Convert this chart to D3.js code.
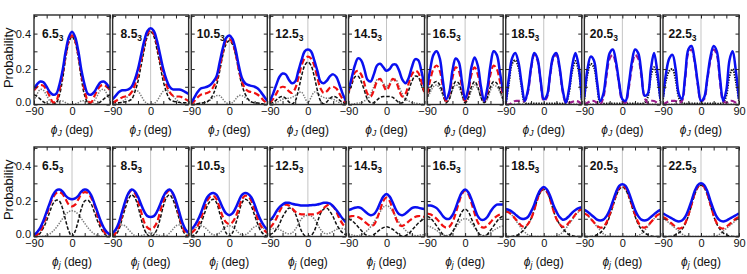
<!DOCTYPE html>
<html>
<head>
<meta charset="utf-8">
<script src="https://cdn.jsdelivr.net/npm/d3@7"></script>
<style>
  body { margin: 0; background: #fff; }
  text { font-family: "Liberation Sans", Arial, sans-serif; fill: #111; }
</style>
</head>
<body>
<div id="chart"></div>
<script>
// sample angles (deg)
const phi = [-90,-82.5,-75,-67.5,-60,-52.5,-45,-37.5,-30,-22.5,-15,-7.5,0,7.5,15,22.5,30,37.5,45,52.5,60,67.5,75,82.5,90];
const labels = ["6.5","8.5","10.5","12.5","14.5","16.5","18.5","20.5","22.5"];
const yTickLabels = [0, 0.2, 0.4];

// top row (phi_J)
const topTotal = [
  [0.09,0.115,0.13,0.125,0.10,0.07,0.055,0.06,0.11,0.19,0.30,0.38,0.41,0.38,0.30,0.19,0.11,0.06,0.055,0.07,0.10,0.125,0.13,0.115,0.09],
  [0.03,0.05,0.07,0.08,0.08,0.085,0.10,0.14,0.20,0.28,0.36,0.415,0.43,0.415,0.36,0.28,0.20,0.14,0.10,0.085,0.085,0.085,0.08,0.07,0.06],
  [0.01,0.04,0.07,0.09,0.095,0.10,0.11,0.13,0.16,0.24,0.32,0.375,0.39,0.37,0.31,0.22,0.15,0.12,0.11,0.105,0.10,0.09,0.07,0.045,0.02],
  [0.02,0.06,0.11,0.155,0.175,0.17,0.14,0.12,0.13,0.19,0.25,0.30,0.31,0.30,0.25,0.19,0.13,0.12,0.135,0.16,0.17,0.155,0.11,0.06,0.02],
  [0.08,0.15,0.22,0.26,0.25,0.20,0.14,0.13,0.17,0.22,0.23,0.21,0.19,0.20,0.225,0.225,0.19,0.14,0.12,0.15,0.21,0.255,0.25,0.19,0.10],
  [0.09,0.20,0.28,0.30,0.26,0.13,0.03,0.07,0.19,0.26,0.24,0.13,0.03,0.09,0.21,0.265,0.22,0.10,0.02,0.09,0.22,0.30,0.28,0.18,0.07],
  [0.01,0.15,0.26,0.29,0.24,0.12,0.02,0.08,0.21,0.29,0.26,0.14,0.03,0.05,0.17,0.27,0.29,0.21,0.08,0.01,0.09,0.22,0.29,0.22,0.03],
  [0.04,0.20,0.27,0.25,0.13,0.02,0.06,0.19,0.29,0.31,0.24,0.12,0.03,0.02,0.11,0.24,0.31,0.29,0.18,0.05,0.06,0.20,0.29,0.19,0.03],
  [0.04,0.18,0.26,0.28,0.20,0.06,0.03,0.16,0.31,0.33,0.25,0.12,0.02,0.04,0.15,0.27,0.33,0.30,0.15,0.02,0.08,0.25,0.30,0.19,0.03]
];
const topDashed = [
  [0.08,0.10,0.11,0.105,0.08,0.045,0.012,0.02,0.08,0.17,0.28,0.36,0.39,0.36,0.28,0.17,0.08,0.02,0.012,0.045,0.08,0.105,0.11,0.10,0.08],
  [0.01,0.02,0.03,0.04,0.045,0.05,0.07,0.11,0.17,0.25,0.34,0.40,0.42,0.40,0.34,0.25,0.17,0.11,0.07,0.05,0.045,0.045,0.04,0.03,0.02],
  [0,0.02,0.04,0.055,0.06,0.065,0.075,0.10,0.14,0.21,0.30,0.36,0.37,0.35,0.29,0.20,0.13,0.09,0.075,0.07,0.065,0.055,0.04,0.02,0.005],
  [0.01,0.03,0.06,0.09,0.10,0.095,0.075,0.065,0.09,0.15,0.22,0.26,0.27,0.26,0.22,0.15,0.09,0.065,0.075,0.095,0.10,0.09,0.06,0.03,0.01],
  [0.07,0.13,0.18,0.19,0.17,0.12,0.06,0.045,0.08,0.13,0.145,0.11,0.08,0.11,0.145,0.13,0.08,0.045,0.06,0.12,0.17,0.19,0.18,0.13,0.07],
  [0.06,0.14,0.20,0.22,0.19,0.10,0.02,0.06,0.15,0.21,0.19,0.10,0.02,0.07,0.17,0.21,0.17,0.08,0.02,0.07,0.17,0.22,0.20,0.13,0.05],
  [0,0,0.01,0.02,0.02,0.02,0.02,0.07,0.20,0.28,0.25,0.13,0.02,0.04,0.16,0.26,0.28,0.20,0.07,0.01,0.01,0.015,0.02,0.015,0],
  [0,0.01,0.02,0.02,0.01,0,0.04,0.16,0.26,0.28,0.22,0.11,0.02,0.01,0.09,0.21,0.28,0.26,0.16,0.04,0.01,0.02,0.02,0.01,0],
  [0,0.01,0.02,0.02,0.02,0.01,0.02,0.14,0.29,0.31,0.24,0.11,0.02,0.03,0.14,0.25,0.31,0.28,0.13,0.02,0.01,0.02,0.02,0.01,0]
];
const topBlack = [
  [0.055,0.045,0.03,0.015,0.004,0,0,0.01,0.05,0.14,0.26,0.35,0.385,0.35,0.26,0.14,0.05,0.01,0,0,0.004,0.015,0.03,0.045,0.055],
  [0.01,0.01,0.01,0.012,0.015,0.02,0.03,0.07,0.13,0.22,0.31,0.385,0.41,0.385,0.31,0.22,0.13,0.07,0.03,0.02,0.015,0.012,0.01,0.01,0.01],
  [0,0.002,0.005,0.008,0.01,0.015,0.03,0.06,0.11,0.19,0.28,0.34,0.36,0.34,0.28,0.19,0.11,0.06,0.03,0.015,0.01,0.008,0.005,0.002,0],
  [0.005,0.012,0.025,0.04,0.045,0.035,0.015,0.003,0.02,0.08,0.16,0.22,0.24,0.22,0.16,0.08,0.02,0.003,0.015,0.035,0.045,0.04,0.025,0.012,0.005],
  [0.06,0.11,0.155,0.16,0.13,0.08,0.03,0.01,0.01,0.025,0.04,0.045,0.045,0.045,0.04,0.025,0.01,0.01,0.03,0.08,0.13,0.16,0.155,0.11,0.06],
  [0.04,0.09,0.12,0.13,0.11,0.06,0.01,0.03,0.09,0.13,0.12,0.06,0.01,0.04,0.10,0.13,0.10,0.04,0.01,0.04,0.10,0.13,0.12,0.08,0.03],
  [0,0.12,0.23,0.25,0.21,0.10,0.01,0.005,0.005,0.005,0.005,0.005,0.005,0.005,0.005,0.005,0.005,0.005,0.005,0.01,0.07,0.19,0.245,0.19,0.02],
  [0.03,0.17,0.23,0.21,0.11,0.01,0.005,0.005,0.005,0.005,0.005,0.005,0.005,0.005,0.005,0.005,0.005,0.005,0.005,0.01,0.04,0.16,0.21,0.15,0.02],
  [0.03,0.14,0.19,0.20,0.14,0.04,0.01,0.005,0.005,0.005,0.005,0.005,0.005,0.005,0.005,0.005,0.005,0.005,0.005,0.01,0.05,0.16,0.20,0.13,0.02]
];
const topGray = [
  [0.02,0.06,0.085,0.08,0.05,0.02,0.005,0.01,0.02,0.02,0.01,0.003,0,0.003,0.01,0.02,0.02,0.01,0.005,0.02,0.05,0.08,0.085,0.06,0.02],
  [0,0.002,0.005,0.015,0.03,0.05,0.07,0.08,0.075,0.05,0.02,0.005,0,0.005,0.02,0.05,0.075,0.08,0.07,0.05,0.03,0.015,0.005,0.002,0],
  [0,0.002,0.005,0.008,0.01,0.015,0.025,0.04,0.05,0.05,0.03,0.01,0.005,0.01,0.03,0.05,0.05,0.04,0.025,0.015,0.01,0.008,0.005,0.002,0],
  [0,0.005,0.01,0.02,0.03,0.035,0.035,0.04,0.05,0.065,0.07,0.04,0.01,0.04,0.07,0.065,0.05,0.04,0.035,0.035,0.03,0.02,0.01,0.005,0],
  [0,0.002,0.005,0.008,0.01,0.02,0.03,0.06,0.10,0.14,0.145,0.12,0.10,0.12,0.145,0.14,0.10,0.06,0.03,0.02,0.01,0.008,0.005,0.002,0],
  [0.03,0.07,0.10,0.11,0.09,0.05,0.01,0.03,0.08,0.11,0.10,0.05,0.01,0.03,0.08,0.11,0.09,0.04,0.01,0.03,0.08,0.11,0.10,0.07,0.02],
  [0.003,0.003,0.003,0.003,0.003,0.003,0.003,0.003,0.003,0.003,0.003,0.003,0.003,0.003,0.003,0.003,0.003,0.003,0.003,0.003,0.003,0.003,0.003,0.003,0.003],
  [0.003,0.003,0.003,0.003,0.003,0.003,0.003,0.003,0.003,0.003,0.003,0.003,0.003,0.003,0.003,0.003,0.003,0.003,0.003,0.003,0.003,0.003,0.003,0.003,0.003],
  [0.003,0.003,0.003,0.003,0.003,0.003,0.003,0.003,0.003,0.003,0.003,0.003,0.003,0.003,0.003,0.003,0.003,0.003,0.003,0.003,0.003,0.003,0.003,0.003,0.003]
];

// bottom row (phi_j)
const botTotal = [
  [0.01,0.025,0.05,0.09,0.14,0.19,0.235,0.26,0.265,0.255,0.23,0.215,0.21,0.215,0.23,0.255,0.265,0.26,0.235,0.19,0.14,0.09,0.05,0.025,0.01],
  [0.02,0.04,0.08,0.14,0.20,0.245,0.265,0.255,0.225,0.18,0.14,0.115,0.11,0.115,0.14,0.18,0.225,0.255,0.265,0.245,0.20,0.14,0.08,0.04,0.02],
  [0.04,0.06,0.09,0.13,0.18,0.22,0.24,0.245,0.235,0.20,0.16,0.13,0.12,0.13,0.16,0.20,0.235,0.245,0.24,0.22,0.18,0.13,0.09,0.06,0.04],
  [0.09,0.11,0.14,0.165,0.18,0.19,0.19,0.185,0.18,0.178,0.175,0.175,0.175,0.177,0.178,0.18,0.185,0.19,0.19,0.185,0.17,0.15,0.125,0.10,0.08],
  [0.15,0.155,0.162,0.165,0.16,0.145,0.13,0.12,0.125,0.15,0.19,0.225,0.24,0.225,0.19,0.15,0.125,0.12,0.13,0.145,0.16,0.165,0.163,0.158,0.155],
  [0.175,0.175,0.17,0.16,0.14,0.115,0.10,0.10,0.12,0.16,0.21,0.25,0.265,0.25,0.21,0.16,0.115,0.095,0.095,0.11,0.14,0.165,0.18,0.18,0.18],
  [0.155,0.15,0.14,0.125,0.11,0.10,0.10,0.11,0.14,0.18,0.23,0.265,0.28,0.265,0.23,0.18,0.14,0.11,0.095,0.10,0.115,0.135,0.15,0.16,0.165],
  [0.15,0.14,0.125,0.11,0.095,0.09,0.095,0.115,0.15,0.20,0.25,0.285,0.295,0.285,0.25,0.20,0.15,0.115,0.095,0.09,0.095,0.11,0.125,0.14,0.15],
  [0.13,0.12,0.11,0.10,0.09,0.085,0.09,0.11,0.15,0.20,0.255,0.29,0.30,0.29,0.255,0.20,0.15,0.11,0.09,0.085,0.09,0.10,0.11,0.12,0.13]
];
const botDashed = [
  [0,0.01,0.03,0.07,0.12,0.18,0.22,0.245,0.25,0.24,0.21,0.18,0.17,0.18,0.21,0.24,0.25,0.245,0.22,0.18,0.12,0.07,0.03,0.01,0],
  [0,0.02,0.06,0.12,0.19,0.24,0.26,0.245,0.20,0.14,0.08,0.05,0.04,0.05,0.08,0.14,0.20,0.245,0.26,0.24,0.19,0.12,0.06,0.02,0],
  [0.02,0.035,0.06,0.10,0.15,0.20,0.225,0.23,0.21,0.16,0.11,0.08,0.07,0.08,0.11,0.16,0.21,0.23,0.225,0.20,0.15,0.10,0.06,0.035,0.02],
  [0.05,0.07,0.10,0.14,0.17,0.18,0.175,0.16,0.14,0.13,0.125,0.125,0.125,0.125,0.125,0.13,0.14,0.16,0.175,0.18,0.17,0.14,0.10,0.07,0.05],
  [0.11,0.115,0.115,0.11,0.10,0.085,0.07,0.06,0.065,0.10,0.15,0.20,0.22,0.20,0.15,0.10,0.065,0.06,0.07,0.085,0.10,0.11,0.115,0.115,0.11],
  [0.13,0.125,0.115,0.10,0.08,0.06,0.05,0.055,0.08,0.13,0.19,0.24,0.26,0.24,0.19,0.13,0.08,0.055,0.05,0.06,0.08,0.10,0.115,0.125,0.13],
  [0.14,0.135,0.12,0.10,0.08,0.06,0.055,0.07,0.10,0.15,0.21,0.255,0.27,0.255,0.21,0.15,0.10,0.07,0.055,0.06,0.08,0.10,0.125,0.145,0.155],
  [0.13,0.12,0.10,0.08,0.06,0.05,0.055,0.08,0.125,0.18,0.235,0.275,0.285,0.275,0.235,0.18,0.125,0.08,0.055,0.05,0.06,0.08,0.10,0.12,0.13],
  [0.11,0.10,0.085,0.07,0.055,0.045,0.05,0.075,0.12,0.18,0.24,0.28,0.29,0.28,0.24,0.18,0.12,0.075,0.05,0.045,0.055,0.07,0.085,0.10,0.11]
];
const botBlack = [
  [0,0.005,0.02,0.05,0.09,0.14,0.185,0.205,0.20,0.16,0.09,0.03,0,0.03,0.09,0.16,0.20,0.205,0.185,0.14,0.09,0.05,0.02,0.005,0],
  [0,0.01,0.04,0.10,0.16,0.21,0.235,0.22,0.17,0.10,0.04,0.01,0,0.01,0.04,0.10,0.17,0.22,0.235,0.21,0.16,0.10,0.04,0.01,0],
  [0,0.01,0.03,0.07,0.12,0.17,0.20,0.21,0.19,0.13,0.07,0.02,0,0.02,0.07,0.13,0.19,0.21,0.20,0.17,0.12,0.07,0.03,0.01,0],
  [0.01,0.02,0.04,0.07,0.11,0.14,0.16,0.155,0.13,0.08,0.03,0.005,0,0.005,0.03,0.08,0.13,0.155,0.16,0.14,0.11,0.07,0.04,0.02,0.01],
  [0.10,0.09,0.075,0.055,0.035,0.015,0.005,0,0.01,0.025,0.04,0.05,0.055,0.05,0.04,0.025,0.01,0,0.005,0.015,0.035,0.055,0.075,0.09,0.10],
  [0.115,0.105,0.085,0.06,0.035,0.012,0,0.005,0.025,0.06,0.10,0.14,0.155,0.14,0.10,0.06,0.025,0.005,0,0.012,0.035,0.06,0.085,0.105,0.115],
  [0,0,0,0.005,0.01,0.025,0.045,0.07,0.10,0.15,0.21,0.25,0.265,0.25,0.21,0.15,0.10,0.07,0.045,0.025,0.01,0.005,0,0,0],
  [0,0,0,0.003,0.01,0.02,0.04,0.07,0.115,0.17,0.225,0.265,0.28,0.265,0.225,0.17,0.115,0.07,0.04,0.02,0.01,0.003,0,0,0],
  [0,0,0,0.003,0.01,0.02,0.04,0.07,0.115,0.175,0.235,0.275,0.29,0.275,0.235,0.175,0.115,0.07,0.04,0.02,0.01,0.003,0,0,0]
];
const botGray = [
  [0,0,0,0.002,0.005,0.015,0.03,0.05,0.075,0.10,0.125,0.14,0.145,0.14,0.125,0.10,0.075,0.05,0.03,0.015,0.005,0.002,0,0,0],
  [0.005,0.03,0.055,0.065,0.06,0.04,0.02,0.005,0,0.005,0.01,0.02,0.02,0.02,0.01,0.005,0,0.005,0.02,0.04,0.06,0.065,0.055,0.03,0.005],
  [0.03,0.045,0.055,0.06,0.055,0.04,0.02,0.01,0.01,0.02,0.04,0.055,0.06,0.055,0.04,0.02,0.01,0.01,0.02,0.04,0.055,0.06,0.055,0.045,0.03],
  [0.04,0.045,0.045,0.04,0.03,0.02,0.015,0.02,0.04,0.07,0.10,0.115,0.12,0.115,0.10,0.07,0.04,0.02,0.015,0.02,0.03,0.04,0.045,0.045,0.04],
  [0.01,0.01,0.005,0.005,0.01,0.02,0.035,0.055,0.08,0.11,0.14,0.165,0.175,0.165,0.14,0.11,0.08,0.055,0.035,0.02,0.01,0.005,0.005,0.01,0.01],
  [0.06,0.055,0.045,0.035,0.02,0.01,0.005,0.01,0.025,0.05,0.075,0.095,0.10,0.095,0.075,0.05,0.025,0.01,0.005,0.01,0.02,0.035,0.045,0.055,0.06],
  [0.15,0.14,0.12,0.095,0.07,0.045,0.025,0.01,0.003,0,0,0,0,0,0,0,0.003,0.01,0.025,0.045,0.07,0.095,0.12,0.14,0.155],
  [0.13,0.12,0.10,0.08,0.055,0.035,0.015,0.005,0,0,0,0,0,0,0,0,0,0.005,0.015,0.035,0.055,0.08,0.10,0.12,0.13],
  [0.10,0.09,0.075,0.06,0.045,0.03,0.015,0.005,0,0,0,0,0,0,0,0,0,0.005,0.015,0.03,0.045,0.06,0.075,0.09,0.10]
];

const W = 747, H = 274;
const rows = [
  { total: topTotal, dashed: topDashed, black: topBlack, gray: topGray, sub: "J", top: 15, bottom: 104.5, alt: [6, 7, 8] },
  { total: botTotal, dashed: botDashed, black: botBlack, gray: botGray, sub: "j", top: 147, bottom: 236.5, alt: [] }
];

const svg = d3.select("#chart").append("svg")
  .attr("width", W)
  .attr("height", H);

const panelX = d3.scaleBand()
  .domain(d3.range(labels.length))
  .range([34, 739])
  .paddingInner(0.033);
const bw = panelX.bandwidth();

const x = d3.scaleLinear().domain([-90, 90]).range([0, bw]);

rows.forEach((row, r) => {
  const y = d3.scaleLinear().domain([0, 0.505]).range([row.bottom, row.top]);

  svg.append("clipPath").attr("id", `clip${r}`)
    .append("rect")
    .attr("x", 0).attr("y", row.top)
    .attr("width", bw).attr("height", row.bottom - row.top);

  const line = d3.line()
    .x((d, i) => x(phi[i]))
    .y(d => y(d))
    .curve(d3.curveCatmullRom.alpha(0.5));

  // y title
  svg.append("text")
    .attr("transform", `translate(13, ${(row.top + row.bottom) / 2 - 2}) rotate(-90)`)
    .attr("text-anchor", "middle")
    .attr("font-size", 13)
    .text("Probability");

  labels.forEach((lab, i) => {
    const g = svg.append("g").attr("transform", `translate(${panelX(i)}, 0)`);
    const alt = row.alt.includes(i);

    // zero line
    g.append("line")
      .attr("x1", x(0)).attr("x2", x(0))
      .attr("y1", row.top).attr("y2", row.bottom)
      .attr("stroke", "#c4c4c4").attr("stroke-width", 1);

    const curves = g.append("g").attr("clip-path", `url(#clip${r})`);

    curves.append("path").datum(row.gray[i])
      .attr("d", line)
      .attr("fill", "none").attr("stroke", "#7a7a7a")
      .attr("stroke-width", 1.5).attr("stroke-dasharray", "1.4,1.3");

    curves.append("path").datum(row.black[i])
      .attr("d", line)
      .attr("fill", "none").attr("stroke", "#111")
      .attr("stroke-width", alt ? 2 : 1.5)
      .attr("stroke-dasharray", alt ? "1.4,1.2" : "3.5,1.8");

    curves.append("path").datum(row.dashed[i])
      .attr("d", line)
      .attr("fill", "none").attr("stroke", alt ? "#9a1c8c" : "#f01010")
      .attr("stroke-width", 2.2).attr("stroke-dasharray", "6,3");

    curves.append("path").datum(row.total[i])
      .attr("d", line)
      .attr("fill", "none").attr("stroke", "#0a10f0")
      .attr("stroke-width", 2.5);

    // inward ticks on all sides
    const xt = d3.range(-90, 91, 30);
    const yt = d3.range(0, 0.51, 0.1);
    g.append("g").attr("transform", `translate(0, ${row.bottom})`)
      .call(d3.axisBottom(x).tickValues(xt).tickSize(-3.5).tickFormat(""));
    g.append("g").attr("transform", `translate(0, ${row.top})`)
      .call(d3.axisTop(x).tickValues(xt).tickSize(-3.5).tickFormat(""));
    g.append("g")
      .call(d3.axisLeft(y).tickValues(yt).tickSize(-3.5).tickFormat(""));
    g.append("g").attr("transform", `translate(${bw}, 0)`)
      .call(d3.axisRight(y).tickValues(yt).tickSize(-3.5).tickFormat(""));
    g.selectAll(".domain").remove();
    g.selectAll(".tick line").attr("stroke", "#222").attr("stroke-width", 1);

    // frame
    g.append("rect")
      .attr("x", 0).attr("y", row.top)
      .attr("width", bw).attr("height", row.bottom - row.top)
      .attr("fill", "none").attr("stroke", "#2a2a2a").attr("stroke-width", 1.4);

    // x tick labels
    const xl = i === labels.length - 1 ? [-90, 0, 90] : [-90, 0];
    const ax = g.append("g").attr("transform", `translate(0, ${row.bottom})`)
      .call(d3.axisBottom(x).tickValues(xl).tickSize(0).tickPadding(3));
    ax.select(".domain").remove();
    ax.selectAll("text").attr("font-size", 11).attr("font-family", null).attr("fill", "#111");

    if (i === 0) {
      const ay = g.append("g")
        .call(d3.axisLeft(y).tickValues(yTickLabels).tickSize(0).tickPadding(3).tickFormat(d3.format(".1f")));
      ay.select(".domain").remove();
      ay.selectAll("text").attr("font-size", 11).attr("font-family", null).attr("fill", "#111")
        .attr("dy", d => d === 0 ? "0.1em" : "0.32em");
    }

    // x title
    const t = g.append("text")
      .attr("x", bw / 2).attr("y", row.bottom + 29)
      .attr("text-anchor", "middle")
      .attr("font-size", 12);
    t.append("tspan").attr("font-style", "italic").text("ϕ");
    t.append("tspan").attr("font-style", "italic").attr("font-size", 8.5).attr("dy", 2.5).text(row.sub);
    t.append("tspan").attr("dy", -2.5).text(" (deg)");

    // panel label
    const lt = g.append("text")
      .attr("x", lab.length > 3 ? 5.5 : 8).attr("y", row.top + 22.5)
      .attr("font-size", 12).attr("font-weight", "bold");
    lt.append("tspan").text(lab);
    lt.append("tspan").attr("font-size", 8.5).attr("dy", 3).text("3");
  });
});
</script>
</body>
</html>
